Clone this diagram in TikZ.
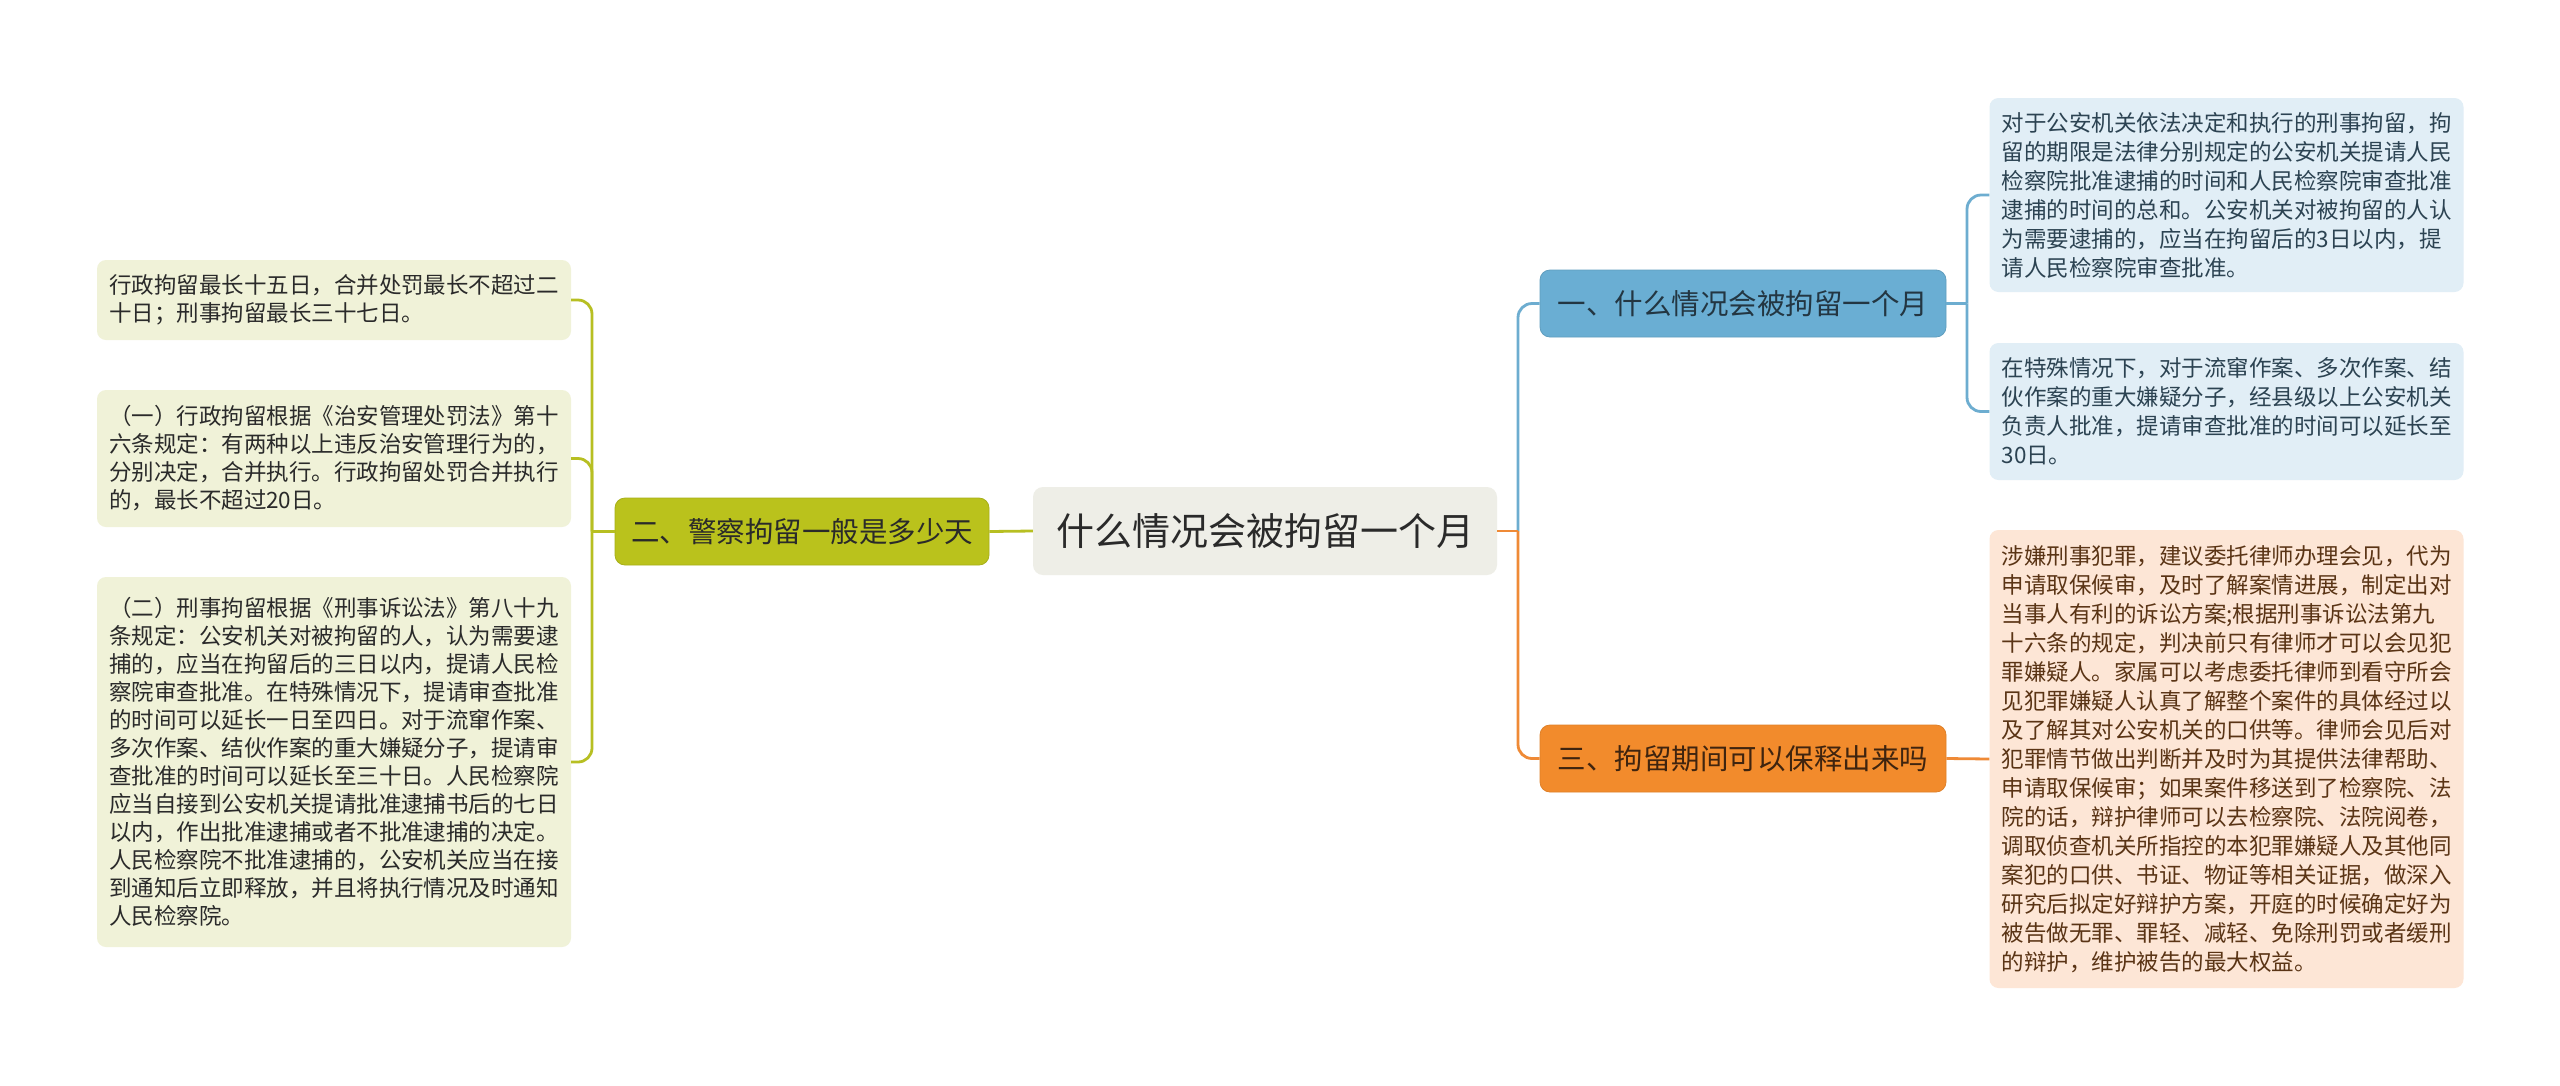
\documentclass[tikz,border=0pt]{standalone}
\usepackage{fontspec}
\setmainfont{Noto Sans CJK SC}
\definecolor{rootfill}{HTML}{EEEEE7}
\definecolor{olive}{HTML}{BAC21C}
\definecolor{oliveline}{HTML}{B7BF22}
\definecolor{olivebox}{HTML}{F0F2D8}
\definecolor{bluenode}{HTML}{6AAED3}
\definecolor{blueline}{HTML}{6DADD0}
\definecolor{bluebox}{HTML}{E1EEF6}
\definecolor{orangenode}{HTML}{F28B2C}
\definecolor{orangeline}{HTML}{EF8A36}
\definecolor{orangebox}{HTML}{FDE6D6}
\definecolor{darktext}{HTML}{2A2A2A}
\definecolor{bluetext}{HTML}{2C4352}
\definecolor{browntext}{HTML}{5A3415}
\begin{document}
\begin{tikzpicture}[x=1pt,y=-1pt,
  rootbox/.style={rounded corners=10pt, fill=rootfill, minimum width=464pt, minimum height=88pt, inner sep=0pt, text=darktext, font=\fontsize{38}{44}\selectfont},
  branchbox/.style={rounded corners=10pt, minimum width=406pt, minimum height=67pt, inner sep=0pt, font=\fontsize{28.5}{34}\selectfont},
  leafbox/.style={rounded corners=9pt, minimum width=474pt, text width=450pt, inner xsep=12pt, inner ysep=0pt, align=left},
  lleaf/.style={leafbox, fill=olivebox, text=darktext, font=\fontsize{22.5}{28}\selectfont},
  bleaf/.style={leafbox, fill=bluebox, text=bluetext, font=\fontsize{22.5}{29}\selectfont},
  oleaf/.style={leafbox, fill=orangebox, text=browntext, font=\fontsize{22.5}{29}\selectfont},
  conn/.style={line width=2.8pt, rounded corners=14pt}
]
\useasboundingbox[fill=white] (0,0) rectangle (2560,1085);

% central and branch nodes
\node[rootbox] (root) at (1265,531) {什么情况会被拘留一个月};
\node[branchbox, fill=olive, draw=olive!90!black, line width=0.8pt, text=darktext, minimum width=374pt] (lmain) at (802,531.5) {二、警察拘留一般是多少天};
\node[branchbox, fill=bluenode, draw=bluenode!90!black, line width=0.8pt, text=bluetext!80!black] (r1) at (1743,303.5) {一、什么情况会被拘留一个月};
\node[branchbox, fill=orangenode, draw=orangenode!92!black, line width=0.8pt, text=browntext!70!black] (r3) at (1743,758.5) {三、拘留期间可以保释出来吗};

% left leaves
\node[lleaf, minimum height=80pt] (l1) at (334,300) {行政拘留最长十五日，合并处罚最长不超过二\\十日；刑事拘留最长三十七日。};
\node[lleaf, minimum height=137pt] (l2) at (334,458.5) {（一）行政拘留根据《治安管理处罚法》第十\\六条规定：有两种以上违反治安管理行为的，\\分别决定，合并执行。行政拘留处罚合并执行\\的，最长不超过20日。};
\node[lleaf, minimum height=370pt] (l3) at (334,762) {（二）刑事拘留根据《刑事诉讼法》第八十九\\条规定：公安机关对被拘留的人，认为需要逮\\捕的，应当在拘留后的三日以内，提请人民检\\察院审查批准。在特殊情况下，提请审查批准\\的时间可以延长一日至四日。对于流窜作案、\\多次作案、结伙作案的重大嫌疑分子，提请审\\查批准的时间可以延长至三十日。人民检察院\\应当自接到公安机关提请批准逮捕书后的七日\\以内，作出批准逮捕或者不批准逮捕的决定。\\人民检察院不批准逮捕的，公安机关应当在接\\到通知后立即释放，并且将执行情况及时通知\\人民检察院。};

% right leaves
\node[bleaf, minimum height=194pt] (rb1) at (2226.5,195) {对于公安机关依法决定和执行的刑事拘留，拘\\留的期限是法律分别规定的公安机关提请人民\\检察院批准逮捕的时间和人民检察院审查批准\\逮捕的时间的总和。公安机关对被拘留的人认\\为需要逮捕的，应当在拘留后的3日以内，提\\请人民检察院审查批准。};
\node[bleaf, minimum height=137pt] (rb2) at (2226.5,411.5) {在特殊情况下，对于流窜作案、多次作案、结\\伙作案的重大嫌疑分子，经县级以上公安机关\\负责人批准，提请审查批准的时间可以延长至\\30日。};
\node[oleaf, minimum height=458pt] (rb3) at (2226.5,759) {涉嫌刑事犯罪，建议委托律师办理会见，代为\\申请取保候审，及时了解案情进展，制定出对\\当事人有利的诉讼方案;根据刑事诉讼法第九\\十六条的规定，判决前只有律师才可以会见犯\\罪嫌疑人。家属可以考虑委托律师到看守所会\\见犯罪嫌疑人认真了解整个案件的具体经过以\\及了解其对公安机关的口供等。律师会见后对\\犯罪情节做出判断并及时为其提供法律帮助、\\申请取保候审；如果案件移送到了检察院、法\\院的话，辩护律师可以去检察院、法院阅卷，\\调取侦查机关所指控的本犯罪嫌疑人及其他同\\案犯的口供、书证、物证等相关证据，做深入\\研究后拟定好辩护方案，开庭的时候确定好为\\被告做无罪、罪轻、减轻、免除刑罚或者缓刑\\的辩护，维护被告的最大权益。};

% junction coordinates
\coordinate (lsp) at (592,531.5);
\coordinate (rsp) at (1518,531);
\coordinate (r1sp) at (1967,303.5);

% connectors: left
\draw[conn, oliveline] (root.west) -- (lmain.east);
\draw[conn, oliveline] (lmain.west) -- (lsp);
\draw[conn, oliveline] (lsp) |- (l1.east);
\draw[conn, oliveline] (lsp) |- (l2.east);
\draw[conn, oliveline] (lsp) |- (l3.east);

% connectors: right
\draw[conn, blueline] (rsp) |- (r1.west);
\draw[conn, orangeline] (root.east) -- (rsp);
\draw[conn, orangeline] (rsp) |- (r3.west);
\draw[conn, blueline] (r1.east) -- (r1sp);
\draw[conn, blueline] (r1sp) |- (rb1.west);
\draw[conn, blueline] (r1sp) |- (rb2.west);
\draw[conn, orangeline] (r3.east) -- (rb3.west);
\end{tikzpicture}
\end{document}
